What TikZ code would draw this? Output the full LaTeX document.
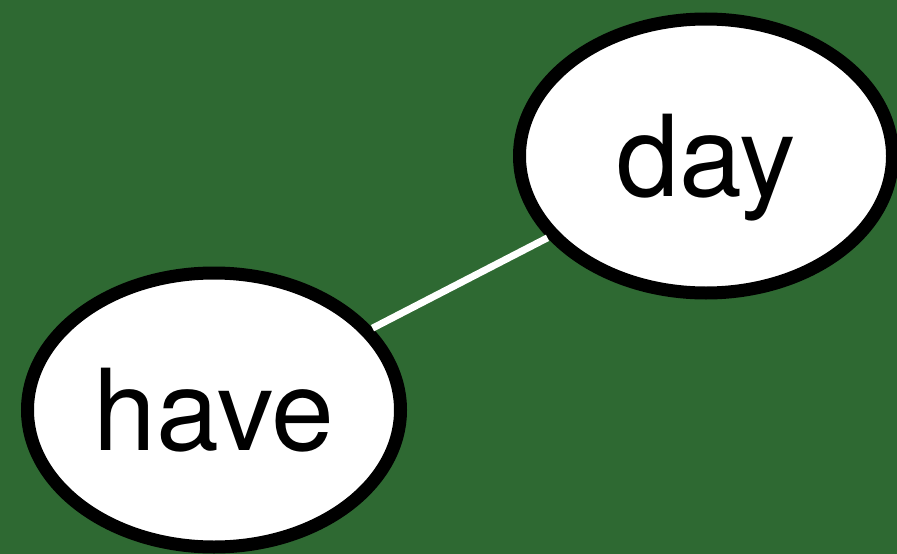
\documentclass[tikz,border=0pt]{standalone}
\usepackage{fontspec}
\setmainfont{TeX Gyre Heros}
\usetikzlibrary{shapes.geometric}
\definecolor{feltgreen}{RGB}{46,105,50}
\tikzstyle{word} = [ellipse, minimum width=373pt, minimum height=274pt, inner sep=0pt, text centered, draw=black, line width=13pt, fill=white, font=\fontsize{113}{124}\selectfont, text height=81pt, text depth=0pt]
\tikzstyle{link} = [draw=white, line width=7pt]

\begin{document}
\begin{tikzpicture}[x=1pt, y=-1pt, node distance=492pt]
\fill [feltgreen] (0,0) rectangle (897,554);
\useasboundingbox (0,0) rectangle (897,554);
\node (have) [word] at (214,410) {have};
\node (day) [word, right of = have, yshift=254pt] {day};
\draw [link] (have) -- (day);
\end{tikzpicture}
\end{document}
